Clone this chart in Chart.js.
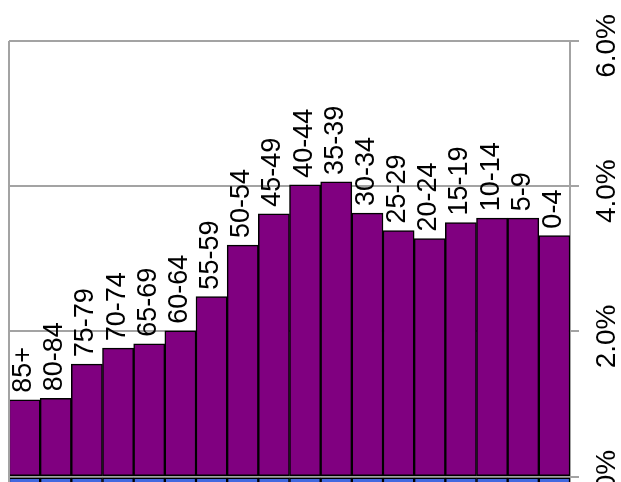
<!DOCTYPE html>
<html>
<head>
<meta charset="utf-8">
<title>Age structure</title>
<script src="https://cdn.jsdelivr.net/npm/chart.js@4/dist/chart.umd.min.js"></script>
<style>
  html, body { margin: 0; padding: 0; background: #fff; overflow: hidden; }
  #pyramid { display: block; }
</style>
</head>
<body>
<canvas id="pyramid" width="621" height="484"></canvas>
<script>
// age groups, oldest first
const ageGroups = ['85+', '80-84', '75-79', '70-74', '65-69', '60-64', '55-59', '50-54', '45-49',
  '40-44', '35-39', '30-34', '25-29', '20-24', '15-19', '10-14', '5-9', '0-4'];
// share of population, %
const femaleShare = [1.06, 1.08, 1.55, 1.77, 1.83, 2.01, 2.48, 3.19, 3.62,
  4.02, 4.06, 3.63, 3.39, 3.28, 3.50, 3.56, 3.56, 3.32];
const maleShare = [-0.55, -0.75, -1.25, -1.6, -1.75, -1.95, -2.45, -3.15, -3.6,
  -4.0, -4.1, -3.7, -3.45, -3.35, -3.6, -3.65, -3.65, -3.4];
const shareTicks = [0, 2, 4, 6];
const shareTickLabels = ['0%', '2.0%', '4.0%', '6.0%'];

const BAR_FONT = '27px "Liberation Sans", Arial, sans-serif';
const AXIS_FONT = '28px "Liberation Sans", Arial, sans-serif';
const GRID = '#a3a3a3';

// age labels on top of each bar, reading upwards
const barLabels = {
  id: 'barLabels',
  afterDatasetsDraw(chart) {
    const ctx = chart.ctx;
    const bars = chart.getDatasetMeta(0).data;
    ctx.save();
    ctx.font = BAR_FONT;
    ctx.fillStyle = '#000';
    ctx.textAlign = 'left';
    ctx.textBaseline = 'middle';
    bars.forEach((bar, i) => {
      ctx.save();
      ctx.translate(bar.x - 1, bar.y - 7);
      ctx.rotate(-Math.PI / 2);
      ctx.fillText(ageGroups[i], 0, 0);
      ctx.restore();
    });
    ctx.restore();
  }
};

// rotated percent labels on the right axis + left frame line
const sideAxis = {
  id: 'sideAxis',
  afterDraw(chart) {
    const ctx = chart.ctx;
    const y = chart.scales.y;
    const area = chart.chartArea;
    ctx.save();
    ctx.strokeStyle = GRID;
    ctx.lineWidth = 2;
    ctx.beginPath();
    ctx.moveTo(area.left, y.getPixelForValue(6));
    ctx.lineTo(area.left, area.bottom);
    ctx.stroke();

    // labels end (the % sign) a little above their tick
    ctx.font = AXIS_FONT;
    ctx.fillStyle = '#000';
    ctx.textAlign = 'right';
    ctx.textBaseline = 'middle';
    shareTicks.forEach((v, i) => {
      ctx.save();
      ctx.translate(area.right + 37, y.getPixelForValue(v) - 27);
      ctx.rotate(-Math.PI / 2);
      ctx.fillText(shareTickLabels[i], 0, 0);
      ctx.restore();
    });
    ctx.restore();
  }
};

new Chart(document.getElementById('pyramid'), {
  type: 'bar',
  data: {
    labels: ageGroups,
    datasets: [
      {
        data: femaleShare,
        backgroundColor: '#800080',
        borderColor: '#000',
        borderWidth: 1.5,
        borderSkipped: false,
        categoryPercentage: 1,
        barPercentage: 1
      },
      {
        data: maleShare,
        backgroundColor: '#4169e1',
        borderColor: '#000',
        borderWidth: 1.5,
        borderSkipped: false,
        categoryPercentage: 1,
        barPercentage: 1
      }
    ]
  },
  options: {
    responsive: false,
    animation: false,
    layout: { padding: { top: 41, left: 9, right: 0, bottom: 0 } },
    plugins: {
      legend: { display: false },
      tooltip: { enabled: false }
    },
    scales: {
      x: { display: false, stacked: true },
      y: {
        stacked: true,
        position: 'right',
        min: -0.1,
        max: 6,
        afterBuildTicks(scale) {
          scale.ticks = shareTicks.map(v => ({ value: v }));
        },
        afterFit(scale) { scale.width = 51; },
        grid: { color: GRID, lineWidth: 2, tickLength: 9 },
        border: { color: GRID, width: 2 },
        ticks: { display: false }
      }
    }
  },
  plugins: [barLabels, sideAxis]
});
</script>
</body>
</html>
